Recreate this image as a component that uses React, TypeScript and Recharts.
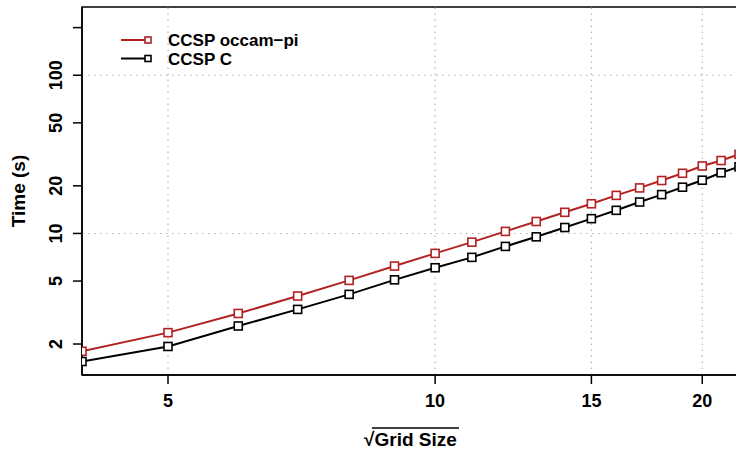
import React from 'react';
import { LineChart, Line, XAxis, YAxis, ReferenceLine, ReferenceArea, Legend } from 'recharts';

const gridSize = [4, 5, 6, 7, 8, 9, 10, 11, 12, 13, 14, 15, 16, 17, 18, 19, 20, 21, 22];
const occamPi = [1.8, 2.36, 3.12, 4.02, 5.05, 6.22, 7.48, 8.81, 10.3, 11.9, 13.6, 15.4, 17.4, 19.4, 21.6, 24.0, 26.7, 28.9, 31.6];
const ccspC = [1.55, 1.93, 2.6, 3.31, 4.12, 5.09, 6.07, 7.06, 8.28, 9.52, 10.9, 12.4, 14.0, 15.8, 17.6, 19.6, 21.7, 24.2, 26.4];
const seriesNames = ['CCSP occam\u2212pi', 'CCSP C'];
const xTicks = [5, 10, 15, 20];
const yTicks = [2, 5, 10, 20, 50, 100, 200];
const yTickLabels = ['2', '5', '10', '20', '50', '100', ''];
const xGrid = [5, 10, 15, 20];
const yGrid = [10, 100];
const xDomain = [4, 22];
const yDomain = [1.274, 270];

const data = gridSize.map((x, i) => ({ x, occam: occamPi[i], c: ccspC[i] }));

const FONT = '"Liberation Sans", Arial, Helvetica, sans-serif';
const RED = '#B22222';

const XTick = (props: any) => {
  const { x, payload } = props;
  return (
    <text x={x} y={407} textAnchor="middle" fontFamily={FONT} fontWeight="bold" fontSize={18} fill="#000">
      {String(payload.value)}
    </text>
  );
};

const YTick = (props: any) => {
  const { y, payload } = props;
  const idx = yTicks.indexOf(payload.value);
  const label = idx >= 0 ? yTickLabels[idx] : String(payload.value);
  return (
    <text x={62} y={y} transform={`rotate(-90 62 ${y})`} textAnchor="middle" fontFamily={FONT} fontWeight="bold" fontSize={18} fill="#000">
      {label}
    </text>
  );
};

const SquareDot = (props: any) => {
  const { cx, cy, stroke } = props;
  if (cx == null || cy == null) return null;
  return <rect x={cx - 4} y={cy - 4} width={8} height={8} fill="#fff" stroke={stroke} strokeWidth={1.6} />;
};

const renderLegend = (props: any) => {
  const payload = [...(props.payload || [])].sort(
    (a: any, b: any) => seriesNames.indexOf(a.value) - seriesNames.indexOf(b.value)
  );
  return (
    <svg width={320} height={80} style={{ display: 'block' }}>
      {payload.map((entry: any, i: number) => {
        const cy = 40 + i * 18.5;
        return (
          <g key={i}>
            <line x1={121} x2={148} y1={cy} y2={cy} stroke={entry.color} strokeWidth={2} />
            <rect x={145} y={cy - 3} width={6} height={6} fill="#fff" stroke={entry.color} strokeWidth={1.6} />
            <text x={168} y={cy + 6} fontFamily={FONT} fontWeight="bold" fontSize={17} fill="#000">
              {entry.value}
            </text>
          </g>
        );
      })}
    </svg>
  );
};

const XLabel = () => {
  return (
    <g>
      <text x={410.5} y={446} textAnchor="middle" fontFamily={FONT} fontWeight="bold" fontSize={19} fill="#000">
        <tspan>√</tspan>
        <tspan>Grid Size</tspan>
      </text>
      <line x1={372} x2={459} y1={428} y2={428} stroke="#000" strokeWidth={1.5} />
    </g>
  );
};

const YLabel = (props: any) => {
  const vb = props.viewBox || {};
  const cy = vb.y != null && vb.height != null ? vb.y + vb.height / 2 : 191;
  return (
    <text x={25} y={cy} transform={`rotate(-90 25 ${cy})`} textAnchor="middle" fontFamily={FONT} fontWeight="bold" fontSize={19} fill="#000">
      Time (s)
    </text>
  );
};

export default function App() {
  return (
    <div style={{ position: 'fixed', left: 0, top: 0, width: 736, height: 449, overflow: 'hidden', background: '#fff' }}>
      <LineChart width={760} height={449} data={data} margin={{ top: 7, right: 21, bottom: 14, left: 0 }}>
        <XAxis
          dataKey="x"
          type="number"
          scale="log"
          domain={xDomain}
          ticks={xTicks}
          allowDataOverflow
          tickSize={9}
          tick={<XTick />}
          axisLine={{ stroke: '#000', strokeWidth: 1.5 }}
          tickLine={{ stroke: '#000', strokeWidth: 1.5 }}
          height={60}
          label={<XLabel />}
        />
        <YAxis
          type="number"
          scale="log"
          domain={yDomain}
          ticks={yTicks}
          allowDataOverflow
          tickSize={9}
          tick={<YTick />}
          axisLine={{ stroke: '#000', strokeWidth: 1.5 }}
          tickLine={{ stroke: '#000', strokeWidth: 1.5 }}
          width={82}
          label={<YLabel />}
        />
        {xGrid.map((g) => (
          <ReferenceLine key={'gx' + g} x={g} stroke="#b0b0b0" strokeWidth={1.1} strokeDasharray="1.5 4.5" />
        ))}
        {yGrid.map((g) => (
          <ReferenceLine key={'gy' + g} y={g} stroke="#b0b0b0" strokeWidth={1.1} strokeDasharray="1.5 4.5" />
        ))}
        <ReferenceArea x1={xDomain[0]} x2={xDomain[1]} y1={yDomain[0]} y2={yDomain[1]} fill="none" fillOpacity={0} stroke="#000" strokeWidth={1.5} />
        <Legend layout="vertical" align="center" verticalAlign="middle" wrapperStyle={{ left: 0, top: 0, width: 320, height: 80 }} content={renderLegend} />
        <Line name={seriesNames[0]} dataKey="occam" stroke={RED} strokeWidth={2} dot={<SquareDot />} isAnimationActive={false} />
        <Line name={seriesNames[1]} dataKey="c" stroke="#000" strokeWidth={2} dot={<SquareDot />} isAnimationActive={false} />
      </LineChart>
    </div>
  );
}
